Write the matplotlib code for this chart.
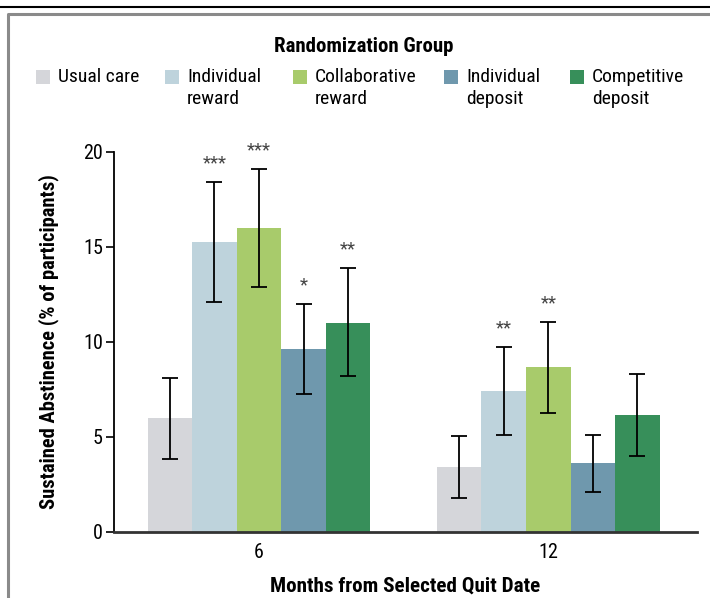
import matplotlib.pyplot as plt
import numpy as np
from matplotlib.patches import Rectangle
from matplotlib.lines import Line2D

plt.rcParams['font.family'] = ['Liberation Sans Narrow', 'Roboto Condensed',
                               'Lato', 'DejaVu Sans']

#### Data ####

groups = ['Usual care', 'Individual\nreward', 'Collaborative\nreward',
          'Individual\ndeposit', 'Competitive\ndeposit']
colors = ['#d5d6da', '#bed3dc', '#a8cb6b', '#6f98ad', '#378f5a']
months = ['6', '12']

# sustained abstinence (%) per group, at 6 and 12 months
values_6 = [6.0, 15.25, 16.0, 9.6, 11.0]
values_12 = [3.4, 7.4, 8.65, 3.6, 6.15]
# 95% CI bounds
low_6 = [3.83, 12.1, 12.85, 7.23, 8.2]
high_6 = [8.1, 18.4, 19.1, 12.0, 13.86]
low_12 = [1.75, 5.1, 6.23, 2.08, 3.98]
high_12 = [5.05, 9.7, 11.05, 5.1, 8.3]
# significance marks
stars_6 = ['', '***', '***', '*', '**']
stars_12 = ['', '**', '**', '', '']

#### Figure ####

fig = plt.figure(figsize=(7.1, 5.98), dpi=100)
ax = fig.add_axes([0.1606, 0.1112, 0.8211, 0.6351])

width = 0.154
centers = np.arange(len(months))
values = [values_6, values_12]
lows = [low_6, low_12]
highs = [high_6, high_12]
stars = [stars_6, stars_12]

for g in range(len(groups)):
    xs = centers + (g - 2) * width
    vals = np.array([values[0][g], values[1][g]])
    lo = np.array([lows[0][g], lows[1][g]])
    hi = np.array([highs[0][g], highs[1][g]])
    ax.bar(xs, vals, width=width, color=colors[g], edgecolor='none', zorder=2)
    ax.errorbar(xs, vals, yerr=[vals - lo, hi - vals], fmt='none',
                ecolor='black', elinewidth=1.3, capsize=5.8, capthick=1.3,
                zorder=3)
    for m in range(len(months)):
        if stars[m][g]:
            ax.annotate(stars[m][g], (xs[m], hi[m]), xytext=(0, 7),
                        textcoords='offset points', ha='center', va='bottom',
                        fontsize=13.5, color='#444444')

ax.set_xlim(-0.501, 1.514)
ax.set_ylim(0, 20)
ax.set_yticks([0, 5, 10, 15, 20])
ax.set_xticks(centers)
ax.set_xticklabels(months)
ax.tick_params(axis='y', direction='out', length=6, width=1.2, labelsize=14.5, pad=2)
ax.tick_params(axis='x', length=0, labelsize=14.5, pad=8)
ax.spines['top'].set_visible(False)
ax.spines['right'].set_visible(False)
ax.spines['left'].set_linewidth(1.3)
ax.spines['bottom'].set_linewidth(2.0)
ax.spines['bottom'].set_color('#333333')
ax.set_ylabel('Sustained Abstinence (% of participants)', fontsize=14.8,
              fontweight='bold', labelpad=17)
ax.set_xlabel('Months from Selected Quit Date', fontsize=15.2,
              fontweight='bold', labelpad=11)

#### Legend ####

fig.text(0.513, 0.922, 'Randomization Group', ha='center', va='center',
         fontsize=15, fontweight='bold')
patch_x = [36, 165, 293, 444, 570]
for g, name in enumerate(groups):
    x0 = patch_x[g] / 710
    fig.add_artist(Rectangle((x0, 1 - 84 / 598), 14 / 710, 14 / 598,
                             transform=fig.transFigure, facecolor=colors[g],
                             edgecolor='none'))
    fig.text(x0 + 22 / 710, 1 - 68 / 598, name, ha='left', va='top',
             fontsize=14, linespacing=1.25)

#### Frame ####

fig.add_artist(Line2D([0, 1], [1 - 7 / 598, 1 - 7 / 598],
                      transform=fig.transFigure, color='black', lw=1.5))
fig.add_artist(Line2D([8 / 710, 8 / 710, 1], [0, 1 - 14 / 598, 1 - 14 / 598],
                      transform=fig.transFigure, color='#8a8a8a', lw=2.2))

fig.savefig('out.png', dpi=100)
